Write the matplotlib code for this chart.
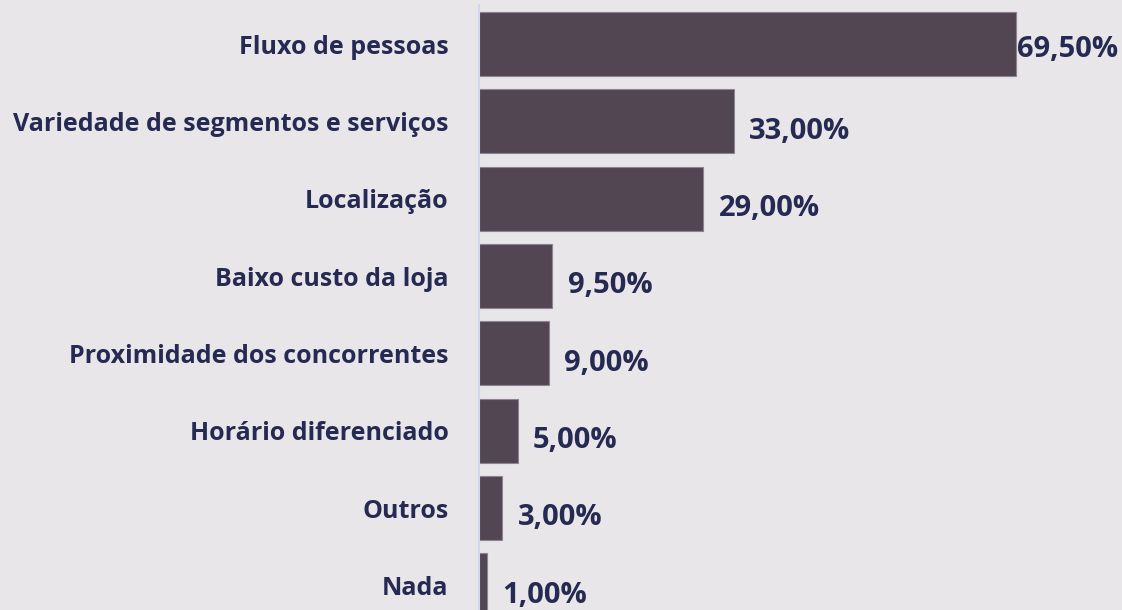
import matplotlib
matplotlib.use("Agg")
import matplotlib.pyplot as plt

categories = ["Fluxo de pessoas", "Variedade de segmentos e serviços", "Localização",
              "Baixo custo da loja", "Proximidade dos concorrentes", "Horário diferenciado",
              "Outros", "Nada"]
values = [69.5, 33.0, 29.0, 9.5, 9.0, 5.0, 3.0, 1.0]
value_labels = ["69,50%", "33,00%", "29,00%", "9,50%", "9,00%", "5,00%", "3,00%", "1,00%"]

bg = "#E8E6E9"
bar_color = "#514652"
text_color = "#262A52"

fig = plt.figure(figsize=(11.22, 6.10), dpi=100, facecolor=bg)
ax = fig.add_axes([479/1122, -0.0230, (1122-479)/1122, 1.0142], facecolor=bg)

y = list(range(len(categories)))
ax.barh(y, values, height=0.83, color=bar_color, edgecolor="#8C8490", linewidth=0.8)
ax.set_ylim(len(categories) - 0.5, -0.5)
ax.set_xlim(0, (1122-479)/7.73)

for i, (v, lab) in enumerate(zip(values, value_labels)):
    if i == 0:
        ax.annotate(lab, (v, i), xytext=(0.5, -4), textcoords="offset points",
                    ha="left", va="center", fontsize=21, fontweight="bold",
                    color=text_color, family="Open Sans")
    else:
        ax.annotate(lab, (v, i), xytext=(11, -7), textcoords="offset points",
                    ha="left", va="center", fontsize=21, fontweight="bold",
                    color=text_color, family="Open Sans")

ax.set_yticks(y)
ax.set_yticklabels(categories, fontsize=18, fontweight="bold", color=text_color,
                   family="Open Sans")
ax.tick_params(axis="y", length=0, pad=22)
ax.set_xticks([])
for s in ["top", "right", "bottom"]:
    ax.spines[s].set_visible(False)
ax.spines["left"].set_color("#D2D5EE")
ax.spines["left"].set_linewidth(1.5)

fig.savefig("out.png", dpi=100, facecolor=bg)
